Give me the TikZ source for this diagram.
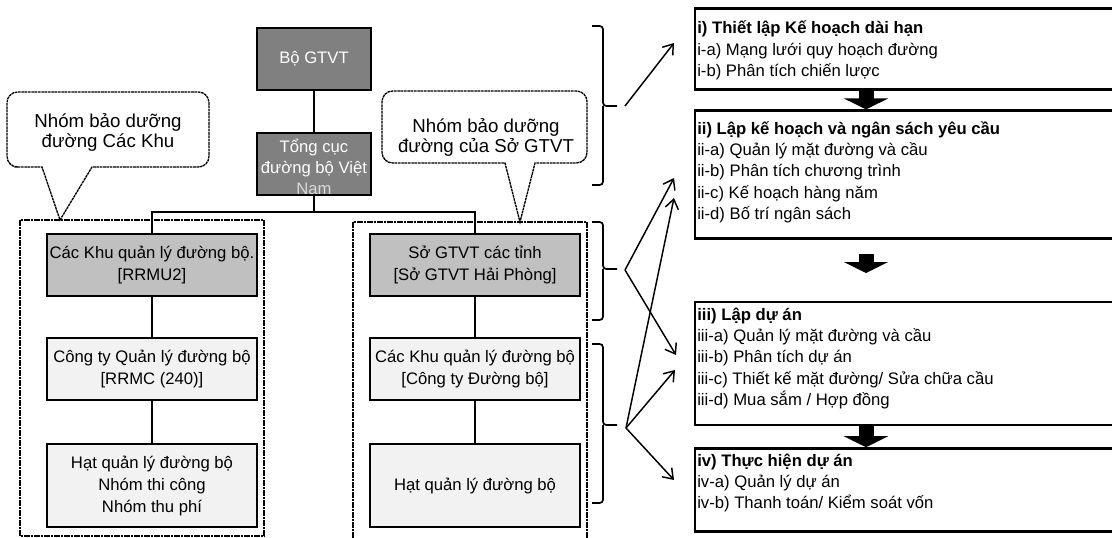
\documentclass[tikz,border=0pt]{standalone}
\usepackage{fontspec}
\setmainfont{Liberation Sans}
\usepackage{xcolor}
\usepackage{tikz}
\usetikzlibrary{arrows.meta,positioning}

\definecolor{boxdark}{HTML}{808080}
\definecolor{boxmid}{HTML}{C0C0C0}
\definecolor{boxlight}{HTML}{F2F2F2}
\newcommand{\topstrut}{\rule{0pt}{13pt}}

\begin{document}
\begin{tikzpicture}[
  x=0.75pt, y=-0.75pt,
  font=\fontsize{12.5pt}{16.5pt}\selectfont,
  every node/.style={align=center},
  org/.style={
    draw, line width=1.6pt, inner sep=0.5pt,
    minimum width=157.5pt, minimum height=46.5pt
  },
  orgtop/.style={org, fill=boxdark, text=white, minimum width=85.5pt},
  orghead/.style={org, fill=boxmid},
  orgsub/.style={org, fill=boxlight},
  orglow/.style={orgsub, minimum height=62.25pt},
  group/.style={line width=1pt, dash pattern=on 2pt off 0.5pt},
  callout/.style={group, fill=white},
  note/.style={font=\fontsize{14pt}{15pt}\selectfont},
  link/.style={line width=1.4pt},
  bracket/.style={line width=1.3pt, rounded corners=2.5pt},
  arr/.style={-{Straight Barb[length=7pt,width=10pt]}, line width=1.1pt},
  plan/.style={draw, line width=1.8pt, fill=white, minimum width=319.5pt, inner sep=0pt},
  plantext/.style={anchor=north west, align=left, inner sep=0pt,
    font=\fontsize{12.5pt}{16pt}\selectfont},
  blockarr/.style={-{Triangle[length=8.25pt,width=33pt]}, line width=11.25pt}
]
\clip (0,0) rectangle (1112,538);

% callouts
\draw[callout] (108,92) [rounded corners=8pt] -- (7,92) -- (7,167) -- (25,167)
  [sharp corners] -- (42,167) -- (60,220) -- (92,167) -- (150,167)
  [rounded corners=8pt] -- (209,167) -- (209,92) -- cycle;
\node[note] (noteL) at (108,132) {Nhóm bảo dưỡng\\đường Các Khu};
\draw[callout] (484,91) [rounded corners=8pt] -- (382,91) -- (382,163) -- (450,163)
  [sharp corners] -- (505,163) -- (520,222) -- (535,163) -- (560,163)
  [rounded corners=8pt] -- (587,163) -- (587,91) -- cycle;
\node[note] (noteR) at (486,137) {Nhóm bảo dưỡng\\đường của Sở GTVT};

% groups
\draw[group] (20,220) rectangle (264,536);
\draw[group] (353,222) rectangle (587,548);

% organisation chart
\node[orgtop] (bo) at (314,59) {Bộ GTVT};
\node[orgtop, below=30.75pt of bo] (tongcuc) {};
\node[text=white, inner sep=0pt, font=\fontsize{12.5pt}{16pt}\selectfont]
  (tongcuctext) at ([yshift=-2pt]tongcuc.center) {Tổng cục\\đường bộ Việt\\\textcolor{gray!30}{Nam}};

\node[orghead] (khuL) at (152,265) {Các Khu quản lý đường bộ.\\{[RRMU2]}};
\node[orgsub, below=30pt of khuL] (congty) {Công ty Quản lý đường bộ\\{[RRMC (240)]}};
\node[orglow, below=31.5pt of congty] (hatL) {Hạt quản lý đường bộ\\Nhóm thi công\\Nhóm thu phí};

\node[orghead] (so) at (475,265) {Sở GTVT các tỉnh\\{[Sở GTVT Hải Phòng]}};
\node[orgsub, below=30pt of so] (khuR) {Các Khu quản lý đường bộ\\{[Công ty Đường bộ]}};
\node[orglow, below=31.5pt of khuR] (hatR) {Hạt quản lý đường bộ};

\coordinate (split) at (314,212);
\draw[link] (bo) -- (tongcuc);
\draw[link] (tongcuc) -- (split);
\draw[link] (khuL) |- (split) -| (so);
\draw[link] (khuL) -- (congty);
\draw[link] (congty) -- (hatL);
\draw[link] (so) -- (khuR);
\draw[link] (khuR) -- (hatR);

% planning steps
\node[plan, minimum height=60.75pt, anchor=north west] (plan1) at (694,7.5) {};
\node[plan, minimum height=96pt, below=13.9pt of plan1] (plan2) {};
\node[plan, minimum height=92.25pt, below=45.75pt of plan2] (plan3) {};
\node[plan, minimum height=62.25pt, below=15.75pt of plan3] (plan4) {};

\node[plantext] (plan1txt) at ([xshift=2.25pt,yshift=-6.5pt]plan1.north west)
  {\topstrut\textbf{i) Thiết lập Kế hoạch dài hạn}\\i-a) Mạng lưới quy hoạch đường\\i-b) Phân tích chiến lược};
\node[plantext] (plan2txt) at ([xshift=2.25pt,yshift=-5.4pt]plan2.north west)
  {\topstrut\textbf{ii) Lập kế hoạch và ngân sách yêu cầu}\\ii-a) Quản lý mặt đường và cầu\\ii-b) Phân tích chương trình\\ii-c) Kế hoạch hàng năm\\ii-d) Bố trí ngân sách};
\node[plantext] (plan3txt) at ([xshift=2.25pt,yshift=-1.3pt]plan3.north west)
  {\topstrut\textbf{iii) Lập dự án}\\iii-a) Quản lý mặt đường và cầu\\iii-b) Phân tích dự án\\iii-c) Thiết kế mặt đường/ Sửa chữa cầu\\iii-d) Mua sắm / Hợp đồng};
\node[plantext] (plan4txt) at ([xshift=2.25pt,yshift=-0.9pt]plan4.north west)
  {\topstrut\textbf{iv) Thực hiện dự án}\\iv-a) Quản lý dự án\\iv-b) Thanh toán/ Kiểm soát vốn};

\coordinate (flowx) at (866,0);
\coordinate (gapTop) at (866,254);
\coordinate (gapBot) at (866,273);
\draw[blockarr] (plan1.south -| flowx) -- (plan2.north -| flowx);
\draw[blockarr] (gapTop) -- (gapBot);
\draw[blockarr] (plan3.south -| flowx) -- (plan4.north -| flowx);

% brackets and arrows
\draw[bracket] (592,26) -| (603,106) -- (617,106);
\draw[bracket] (592,185) -| (603,106);
\draw[bracket] (592,222) -| (603,269) -- (617,269);
\draw[bracket] (592,320) -| (603,269);
\draw[bracket] (592,344) -| (603,425) -- (617,425);
\draw[bracket] (592,503) -| (603,425);

\coordinate (from1) at (625,106);
\coordinate (from2) at (625,270);
\coordinate (from3) at (626,428);
\coordinate (aim1) at (674,43);
\coordinate (aim2) at (674,178);
\coordinate (aim3) at (676,355);
\coordinate (aim4) at (674,198);
\coordinate (aim5) at (675,370);
\coordinate (aim6) at (674,480);

\draw[arr] (from1) -- (aim1);
\draw[arr] (from2) -- (aim2);
\draw[arr] (from2) -- (aim3);
\draw[arr] (from3) -- (aim4);
\draw[arr] (from3) -- (aim5);
\draw[arr] (from3) -- (aim6);

\end{tikzpicture}
\end{document}
